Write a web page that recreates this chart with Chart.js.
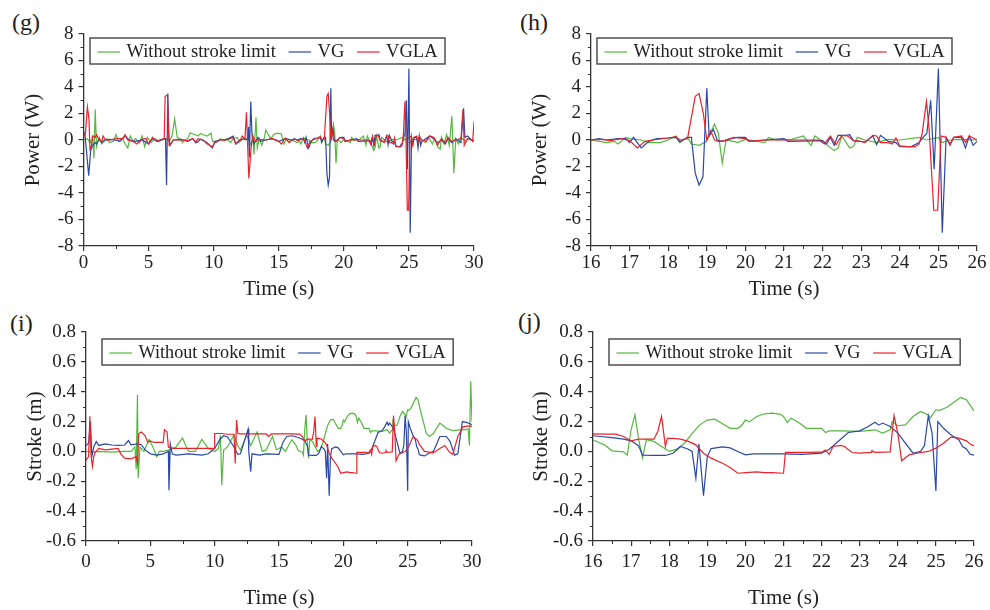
<!DOCTYPE html>
<html>
<head>
<meta charset="utf-8">
<script src="https://cdn.jsdelivr.net/npm/chart.js@4.4.1/dist/chart.umd.min.js"></script>
<style>
  body { margin: 0; width: 990px; height: 610px; background: #fff; overflow: hidden; position: relative; font-family: "Liberation Serif", serif; }
  canvas { position: absolute; }
  .panel { position: absolute; font-size: 24px; color: #222; line-height: 1; }
</style>
</head>
<body>
<div class="panel" style="left:12px;top:10px">(g)</div>
<div class="panel" style="left:520px;top:10px">(h)</div>
<div class="panel" style="left:10px;top:311px">(i)</div>
<div class="panel" style="left:518px;top:309px">(j)</div>
<canvas id="g" width="490" height="300" style="left:0;top:0"></canvas>
<canvas id="h" width="505" height="300" style="left:495px;top:0"></canvas>
<canvas id="i" width="490" height="310" style="left:0;top:300px"></canvas>
<canvas id="j" width="505" height="310" style="left:495px;top:300px"></canvas>
<script>
// series names
const seriesNames = ['Without stroke limit', 'VG', 'VGLA'];
const seriesColors = ['#55b83f', '#2a48a8', '#e8232b'];

// power (W) vs time (s), [t, P]
const powerGreen = [[0,0],[0.3,0.1],[0.5,-0.2],[0.7,0.2],[0.8,-1.4],[0.9,2.3],[1.0,-0.5],[1.2,0.2],[1.4,-0.3],[1.6,-0.1],[1.8,0.1],[2.0,-0.2],[2.3,-0.1],[2.5,0.4],[2.7,-0.1],[3.0,0.1],[3.2,-0.3],[3.4,-0.6],[3.6,0.3],[3.8,-0.1],[4.0,0.1],[4.3,-0.2],[4.5,0.3],[4.7,-0.5],[4.9,0.2],[5.2,-0.2],[5.5,0.1],[5.8,-0.1],[6.0,0],[6.4,0.1],[6.6,-0.1],[6.8,0.3],[7.0,1.6],[7.2,0.2],[7.4,0.1],[7.6,-0.2],[7.8,0],[8.0,0.1],[8.2,0.55],[8.4,0.45],[8.6,0.4],[8.8,0.3],[9.0,0.5],[9.2,0.4],[9.5,0.3],[9.8,0.5],[9.9,-0.1],[10.2,-0.2],[10.5,0.1],[10.8,-0.1],[11.0,0.1],[11.3,-0.2],[11.5,0.1],[11.8,0.2],[12.0,-0.1],[12.3,0.1],[12.6,0.1],[12.9,-0.4],[13.0,0.3],[13.1,-1.1],[13.25,1.7],[13.35,-0.6],[13.5,0.1],[13.7,-0.4],[13.9,0.2],[14.0,0.75],[14.2,0.4],[14.4,0.1],[14.6,0.4],[14.8,0.5],[15.0,0.5],[15.2,0.45],[15.4,-0.3],[15.6,0.1],[15.8,-0.2],[16.0,0],[16.4,-0.2],[16.6,-0.1],[16.7,-0.3],[16.9,0.2],[17.0,0.1],[17.3,0],[17.5,-0.2],[17.8,-0.2],[18.0,0],[18.2,0.3],[18.3,-0.2],[18.5,0.2],[18.6,-0.3],[18.8,-0.4],[19.0,-0.1],[19.2,1.2],[19.3,0.5],[19.4,-1.75],[19.5,0],[19.7,-0.1],[19.8,-0.2],[20.0,0.05],[20.5,-0.2],[20.6,0.2],[20.8,0],[21.2,0.05],[21.5,0.3],[21.7,-0.4],[21.8,0.3],[22.0,-0.1],[22.3,-0.8],[22.4,-0.6],[22.5,0.3],[22.7,-0.6],[22.8,-0.5],[22.9,0.2],[23.1,0],[23.4,-0.2],[23.7,0.05],[24.0,0],[24.5,0.2],[24.7,0],[25.0,0.2],[25.1,-0.2],[25.3,0],[25.6,0.05],[26.0,0],[26.3,-0.2],[26.5,0.2],[26.8,-0.3],[27.0,0.1],[27.2,-0.5],[27.4,-0.7],[27.5,0.2],[27.7,-0.3],[27.9,0.4],[28.1,-0.4],[28.3,1.8],[28.45,-2.5],[28.6,0.1],[28.8,-0.3],[29.0,0.2],[29.3,-0.1],[29.6,0.1],[30,0]];
const powerBlue = [[0,0.6],[0.1,0.5],[0.2,-0.5],[0.4,-2.7],[0.55,-0.8],[0.7,-0.4],[0.9,-0.2],[1.0,-0.3],[1.2,0.1],[1.4,-0.2],[1.6,0],[2.0,0.05],[2.4,0],[2.8,-0.1],[3.2,0.3],[3.5,0],[4.0,-0.1],[4.5,0],[5.0,-0.3],[5.3,0.1],[5.7,-0.1],[6.0,0],[6.3,0.1],[6.38,-3.4],[6.48,3.5],[6.56,0.2],[6.65,-0.4],[6.9,0],[7.5,0.05],[8.0,-0.1],[8.4,0.1],[8.7,-0.2],[9.0,0.05],[9.5,-0.2],[9.9,-0.6],[10.1,-0.1],[10.5,0],[11.0,0.05],[11.5,0.3],[11.7,-0.3],[12.0,0],[12.4,0.1],[12.6,0],[12.68,1.0],[12.74,-1.3],[12.85,2.9],[12.95,0.3],[13.1,-0.3],[13.4,0.2],[13.6,-0.1],[14.0,0],[14.5,0.1],[15.0,-0.1],[15.5,0.1],[16.0,0],[16.2,0.1],[16.4,0],[16.7,0.1],[16.9,0.1],[17.0,-0.2],[17.1,0.2],[17.3,-0.6],[17.5,-0.1],[17.7,0.1],[18.0,0.15],[18.2,0.2],[18.3,-0.15],[18.5,0.2],[18.6,0.2],[18.7,-2.5],[18.8,-3.4],[18.9,-2.8],[19.0,3.9],[19.06,0.3],[19.17,0.8],[19.27,0],[19.4,-0.1],[19.6,0.1],[19.8,0.2],[20.0,0.2],[20.1,-0.1],[20.5,0],[21.0,0.1],[21.1,-0.1],[22.0,-0.05],[22.1,-0.3],[22.2,0.2],[22.3,-0.4],[22.4,0.35],[22.6,0.35],[22.7,0.4],[22.8,-0.05],[23.1,-0.15],[23.3,0.3],[23.4,-0.35],[23.5,0.35],[23.7,-0.1],[23.9,-0.2],[24.0,-0.5],[24.3,-0.5],[24.5,-0.2],[24.6,0.2],[24.7,0.5],[24.8,3.0],[24.89,-2.2],[25.0,5.4],[25.1,-7.0],[25.2,0.2],[25.3,-0.3],[25.4,0.2],[25.6,0.2],[25.7,-0.6],[25.8,0.3],[25.9,-0.4],[26.0,-0.1],[26.3,0.1],[26.6,0.3],[26.9,0.1],[27.2,-0.2],[27.5,0],[27.8,-0.3],[28.0,0.1],[28.3,-0.2],[28.6,0.1],[29.0,-0.2],[29.2,2.4],[29.3,0.2],[29.5,0.3],[29.8,0],[30,-0.1]];
const powerRed = [[0,0.2],[0.15,0.5],[0.3,2.5],[0.42,1.6],[0.5,-0.7],[0.6,-0.5],[0.7,0.3],[0.9,0.2],[1.0,0.4],[1.2,0],[1.4,-0.1],[1.5,0.3],[1.7,0],[2.0,0],[2.5,0.1],[3.0,0.1],[3.2,0.4],[3.4,0],[3.8,-0.1],[4.1,-0.3],[4.5,0.05],[4.8,0.1],[5.0,-0.3],[5.3,0.2],[5.6,-0.1],[6.0,0.05],[6.2,0.1],[6.27,3.3],[6.45,3.4],[6.52,1.0],[6.58,-0.4],[6.7,-0.3],[6.9,0],[7.5,0],[8.0,-0.05],[8.4,0.1],[8.6,-0.2],[8.8,0.1],[9.2,0],[9.5,-0.3],[9.9,-0.5],[10.1,-0.2],[10.5,0],[11.0,0],[11.5,0.2],[11.7,-0.3],[12.0,-0.1],[12.2,0.3],[12.4,0.05],[12.52,2.1],[12.7,-2.9],[12.9,-0.3],[13.0,0.3],[13.2,-0.1],[13.5,0.05],[14.0,0],[14.5,0.1],[15.0,-0.1],[15.2,-0.3],[15.5,0.15],[15.8,-0.2],[16.0,0],[16.3,0.05],[16.5,-0.05],[16.8,0.1],[17.0,-0.05],[17.2,-0.6],[17.4,-0.1],[17.6,0],[18.0,0.15],[18.2,0.25],[18.3,0],[18.5,0.1],[18.7,3.3],[18.8,3.5],[18.91,2.0],[19.0,0],[19.1,0.7],[19.2,0],[19.3,-0.1],[19.5,-0.05],[19.7,0.2],[20.0,0.1],[20.1,-0.1],[20.5,0],[21.0,0],[21.9,0],[22.05,-0.3],[22.2,0.3],[22.35,-0.35],[22.5,0.35],[22.65,0.3],[22.8,-0.05],[23.0,-0.1],[23.1,-0.2],[23.3,0.35],[23.4,0.3],[23.5,-0.2],[23.7,-0.2],[23.8,-0.3],[23.9,0.15],[24.0,-0.45],[24.2,-0.5],[24.4,-0.5],[24.5,-0.3],[24.58,0.5],[24.69,2.9],[24.76,0.8],[24.88,-5.3],[24.98,-5.3],[25.07,0.3],[25.2,0.2],[25.3,-0.4],[25.4,0.2],[25.6,0.3],[25.7,-0.2],[25.8,0.3],[26.0,0],[26.3,-0.1],[26.6,0.3],[26.9,0.2],[27.2,-0.4],[27.5,0.1],[27.8,-0.2],[28.0,0.2],[28.3,-0.1],[28.6,0],[29.0,0.1],[29.15,2.3],[29.25,-0.4],[29.5,0.1],[29.8,0],[29.9,-0.1],[30,1.4]];

// stroke (m) vs time (s), [t, S]
const strokeGreen = [[0,0],[0.5,-0.005],[1,0],[2,-0.005],[3,0],[3.5,0],[3.8,0.03],[3.9,-0.12],[4.0,0.38],[4.05,-0.18],[4.2,0.03],[4.5,0],[4.9,0.08],[5.2,0.03],[5.5,-0.035],[5.7,0],[6.0,0],[6.5,0.01],[7.0,0.03],[7.5,0.09],[7.8,0.03],[8.0,0],[8.5,0],[9.0,0.08],[9.5,0.02],[10.0,0],[10.3,0.02],[10.45,0.11],[10.55,-0.225],[10.7,0.01],[11.0,0.03],[11.5,0.11],[11.8,0.04],[12.0,0.01],[12.5,0.11],[12.8,0.04],[13.3,0.13],[13.7,0],[14.0,0.01],[14.5,0.1],[14.8,0.01],[15.2,0.03],[15.5,0],[15.8,0.05],[16.0,0.078],[16.2,0.055],[16.3,0.044],[16.5,0.004],[16.8,-0.003],[16.9,-0.025],[17.0,0.145],[17.1,0.245],[17.2,0.078],[17.3,-0.045],[17.4,0.078],[17.6,0.067],[17.8,0.033],[18.0,0],[18.2,0.015],[18.4,0.055],[18.6,0.12],[18.8,0.178],[19.0,0.21],[19.2,0.216],[19.4,0.185],[19.6,0.155],[19.8,0.155],[19.9,0.174],[20.0,0.21],[20.1,0.198],[20.3,0.234],[20.5,0.252],[20.7,0.256],[20.9,0.25],[21.0,0.234],[21.1,0.194],[21.2,0.223],[21.4,0.194],[21.6,0.155],[22.0,0.155],[22.1,0.127],[22.2,0.138],[22.5,0.138],[23.0,0.134],[23.4,0.145],[23.6,0.123],[23.8,0.145],[23.85,0.2],[24.0,0.172],[24.2,0.178],[24.4,0.234],[24.6,0.268],[24.8,0.245],[24.85,0.223],[25.0,0.279],[25.1,0.275],[25.3,0.297],[25.5,0.335],[25.65,0.362],[25.8,0.346],[26.0,0.272],[26.45,0.12],[26.7,0.1],[27.0,0.12],[27.5,0.19],[28.0,0.155],[28.5,0.14],[29.0,0.145],[29.4,0.145],[29.7,0.15],[29.8,0.04],[29.9,0.47],[30,0.2]];
const strokeBlue = [[0,0.04],[0.2,0.055],[0.35,0.2],[0.45,-0.035],[0.6,0.03],[0.8,0.066],[1.0,0.04],[1.5,0.05],[2.0,0.043],[2.5,0.04],[3.0,0.043],[3.3,0.073],[3.5,0.044],[4.0,0.05],[4.3,0.045],[4.6,0.01],[5.0,-0.016],[5.5,-0.025],[6.0,-0.016],[6.4,0],[6.45,-0.26],[6.55,0.05],[6.7,-0.016],[7.0,-0.025],[8.0,-0.016],[9.0,-0.025],[9.5,-0.016],[10.0,0.02],[10.4,0.08],[10.7,0.105],[11.0,0.097],[11.5,0.03],[11.8,-0.02],[12.0,-0.016],[12.6,0.15],[12.65,0],[12.8,-0.135],[12.9,-0.016],[13.5,-0.025],[14.0,-0.016],[15.0,-0.02],[15.3,0.06],[15.6,0.1],[16.0,0.105],[16.2,0.1],[16.5,0.093],[16.8,0.082],[17.0,0.071],[17.2,0.037],[17.3,-0.025],[17.6,-0.027],[17.9,-0.027],[18.1,-0.012],[18.3,0.033],[18.5,0.015],[18.6,0],[18.7,-0.18],[18.78,0.05],[18.9,-0.296],[19.0,-0.034],[19.1,0.019],[19.4,0.03],[19.6,0.024],[19.8,0],[20.0,-0.023],[20.2,-0.016],[21.0,-0.016],[21.5,-0.02],[22.0,-0.012],[22.2,0.015],[22.5,0.082],[22.7,0.127],[23.0,0.138],[23.2,0.163],[23.4,0.196],[23.5,0.176],[23.6,0.19],[23.8,0.167],[24.0,0.123],[24.2,0.055],[24.4,-0.012],[24.6,0],[24.7,0.04],[24.8,0.237],[24.9,0.123],[25.0,-0.265],[25.05,0.2],[25.2,0.155],[25.4,0.11],[25.6,0.078],[25.7,0.033],[25.8,0.017],[25.9,-0.019],[26.0,-0.025],[26.3,-0.03],[26.7,-0.01],[27.0,0],[27.5,0.1],[28.0,0.1],[28.3,0.066],[28.65,-0.025],[28.9,-0.016],[29.25,0.2],[29.56,0.195],[30,0.18]];
const strokeRed = [[0,-0.06],[0.2,-0.035],[0.3,0.235],[0.4,-0.035],[0.5,-0.1],[0.6,-0.035],[0.7,-0.008],[1.0,0.02],[1.5,0.01],[2.0,0.015],[2.5,0.02],[2.7,-0.016],[3.0,-0.045],[3.5,-0.05],[3.9,-0.035],[4.0,-0.08],[4.1,0.12],[4.3,0.13],[4.6,0.105],[4.8,0.06],[5.0,0.07],[5.3,0.06],[6.0,0.06],[6.1,0.145],[6.3,0.13],[6.4,0.03],[6.8,0.02],[7.5,0.02],[9.0,0.02],[9.95,0.02],[10.0,0.12],[10.5,0.12],[11.0,0.115],[11.5,0.115],[11.6,-0.08],[11.7,0.21],[11.8,0.12],[12.0,0.117],[14.0,0.117],[14.2,0.1],[14.4,0.117],[16.0,0.118],[16.3,0.116],[16.6,0.116],[16.8,0.1],[17.0,0.071],[17.2,0.082],[17.6,0.082],[17.7,0.134],[17.8,0.234],[17.9,0.033],[17.95,0.087],[18.1,0.087],[18.3,0.082],[18.5,0.067],[18.7,0.044],[18.9,-0.012],[19.1,-0.045],[19.4,-0.079],[19.6,-0.108],[19.8,-0.146],[20.0,-0.142],[20.3,-0.137],[20.5,-0.142],[20.7,-0.142],[21.0,-0.146],[21.05,-0.007],[21.5,-0.007],[22.0,-0.005],[22.1,0.01],[22.2,-0.02],[22.3,0.033],[22.5,0.04],[22.6,0.033],[22.8,-0.007],[23.0,-0.012],[23.3,-0.007],[23.32,0.006],[23.4,-0.007],[23.8,-0.003],[23.9,0.24],[24.0,0.123],[24.1,-0.063],[24.3,-0.023],[24.5,-0.012],[24.8,0],[25.0,0.022],[25.2,0.055],[25.4,0.096],[25.6,0.089],[25.8,0.071],[25.9,0.049],[26.0,0.037],[26.3,0],[27.0,-0.01],[27.5,0.02],[27.9,0.04],[28.2,0],[28.5,-0.02],[28.9,0.1],[29.3,0.165],[29.6,0.17],[30,0.17]];

const axisColor = '#333';
Chart.defaults.font.family = '"Liberation Serif", "Times New Roman", serif';
Chart.defaults.color = '#222';

// legend drawn as a framed box inside the plot area
const boxLegend = {
  id: 'boxLegend',
  afterDraw(chart, args, opts) {
    const ctx = chart.ctx, a = chart.chartArea, sets = chart.data.datasets;
    ctx.save();
    ctx.font = opts.size + 'px "Liberation Serif"';
    const lineLen = 22.5, gap = 6.5, sep = 12.8, pad = 7.5, h = 26;
    let w = pad * 2;
    sets.forEach((d, k) => { w += lineLen + gap + ctx.measureText(d.label).width + (k < sets.length - 1 ? sep : 0); });
    const x0 = a.left + opts.dx, y0 = a.top + opts.dy, cy = y0 + h / 2;
    ctx.fillStyle = '#fff';
    ctx.fillRect(x0, y0, w, h);
    ctx.strokeStyle = '#444';
    ctx.lineWidth = 1.4;
    ctx.strokeRect(x0, y0, w, h);
    let x = x0 + pad;
    ctx.textBaseline = 'middle';
    sets.forEach(d => {
      ctx.strokeStyle = d.borderColor;
      ctx.lineWidth = 1.2;
      ctx.beginPath(); ctx.moveTo(x, cy + 1); ctx.lineTo(x + lineLen, cy + 1); ctx.stroke();
      x += lineLen + gap;
      ctx.fillStyle = '#222';
      ctx.fillText(d.label, x, cy + 1);
      x += ctx.measureText(d.label).width + sep;
    });
    ctx.restore();
  }
};

// short unlabelled ticks between the major ones
const minorTicks = {
  id: 'minorTicks',
  afterDraw(chart, args, opts) {
    const ctx = chart.ctx;
    ctx.save();
    ctx.strokeStyle = axisColor;
    ctx.lineWidth = 1;
    const sx = chart.scales.x, sy = chart.scales.y;
    for (let v = sx.min + opts.x; v < sx.max; v += opts.x * 2) {
      const px = Math.round(sx.getPixelForValue(v)) + 0.5;
      ctx.beginPath(); ctx.moveTo(px, sx.top); ctx.lineTo(px, sx.top + 3); ctx.stroke();
    }
    for (let v = sy.min + opts.y; v < sy.max; v += opts.y * 2) {
      const py = Math.round(sy.getPixelForValue(v)) + 0.5;
      ctx.beginPath(); ctx.moveTo(sy.right, py); ctx.lineTo(sy.right - 3, py); ctx.stroke();
    }
    ctx.restore();
  }
};

function toXY(arr) { return arr.map(p => ({ x: p[0], y: p[1] })); }

function makePanel(id, p) {
  const datasets = p.series.map((s, k) => ({
    label: seriesNames[k],
    data: toXY(s),
    borderColor: seriesColors[k],
    borderWidth: 1.2,
    pointRadius: 0,
    tension: 0,
    order: 3 - k
  }));
  return new Chart(document.getElementById(id), {
    type: 'line',
    data: { datasets },
    options: {
      responsive: false,
      animation: false,
      devicePixelRatio: 1,
      layout: { padding: { left: 0, top: p.top, right: p.right, bottom: 0 } },
      plugins: {
        legend: { display: false },
        tooltip: { enabled: false },
        boxLegend: { dx: p.legDx, dy: p.legDy, size: p.legSize },
        minorTicks: { x: p.xStep / 2, y: p.yStep / 2 }
      },
      scales: {
        x: {
          type: 'linear', min: p.xMin, max: p.xMax,
          afterFit: s => { s.height = p.xH; },
          ticks: { stepSize: p.xStep, font: { size: 19 }, padding: p.xPad, maxRotation: 0, autoSkip: false },
          grid: { drawOnChartArea: false, tickLength: 5, color: axisColor, lineWidth: 1.2 },
          border: { color: axisColor, width: 1.3 },
          title: { display: true, text: 'Time (s)', font: { size: 21, lineHeight: 1 }, padding: { top: 0, bottom: p.xTitlePad } }
        },
        y: {
          min: p.yMin, max: p.yMax,
          afterFit: s => { s.width = p.yW; },
          ticks: { stepSize: p.yStep, font: { size: 19 }, padding: 5, callback: v => v.toFixed(p.dec) },
          grid: { drawOnChartArea: false, tickLength: 5, color: axisColor, lineWidth: 1.2 },
          border: { color: axisColor, width: 1.3 },
          title: { display: true, text: p.yTitle, font: { size: 21, lineHeight: 1 }, padding: { top: p.yTitlePad, bottom: 0 } }
        }
      }
    },
    plugins: [boxLegend, minorTicks]
  });
}

const powerSeries = [powerGreen, powerBlue, powerRed];
const strokeSeries = [strokeGreen, strokeBlue, strokeRed];

makePanel('g', { series: powerSeries, xMin: 0, xMax: 30, xStep: 5, yMin: -8, yMax: 8, yStep: 2, dec: 0,
  yTitle: 'Power (W)', top: 34, right: 16, xH: 54, yW: 83.5, xPad: 1, xTitlePad: 0, yTitlePad: 23, legDx: 6.5, legDy: 4, legSize: 18.5 });
makePanel('h', { series: powerSeries, xMin: 16, xMax: 26, xStep: 1, yMin: -8, yMax: 8, yStep: 2, dec: 0,
  yTitle: 'Power (W)', top: 34, right: 23, xH: 54, yW: 96, xPad: 1, xTitlePad: 0, yTitlePad: 34.5, legDx: 6, legDy: 4, legSize: 18.5 });
makePanel('i', { series: strokeSeries, xMin: 0, xMax: 30, xStep: 5, yMin: -0.6, yMax: 0.8, yStep: 0.2, dec: 1,
  yTitle: 'Stroke (m)', top: 32, right: 18, xH: 69, yW: 86, xPad: 5, xTitlePad: 1.5, yTitlePad: 24.5, legDx: 16, legDy: 7, legSize: 18.2 });
makePanel('j', { series: strokeSeries, xMin: 16, xMax: 26, xStep: 1, yMin: -0.6, yMax: 0.8, yStep: 0.2, dec: 1,
  yTitle: 'Stroke (m)', top: 32, right: 26, xH: 69, yW: 98, xPad: 5, xTitlePad: 1.5, yTitlePad: 36, legDx: 16, legDy: 7, legSize: 18.2 });
</script>
</body>
</html>
